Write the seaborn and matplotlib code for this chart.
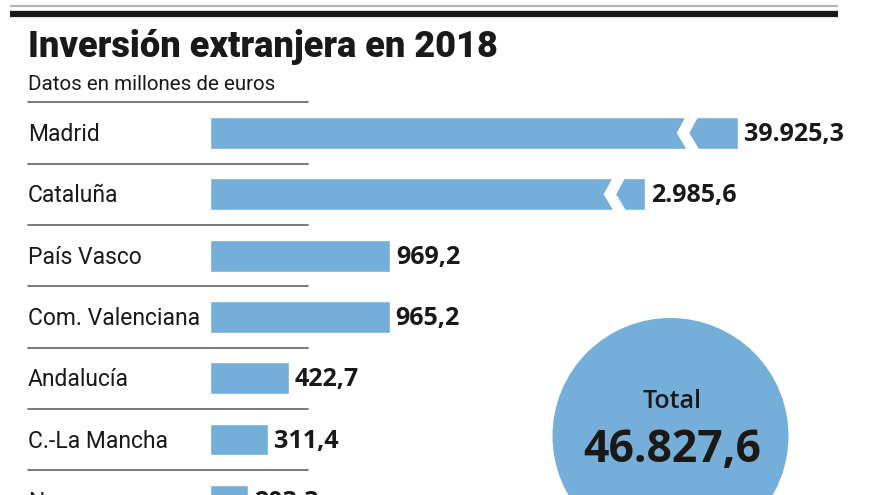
import matplotlib
matplotlib.use("Agg")
import matplotlib.pyplot as plt
import matplotlib.transforms as mtrans
from matplotlib.lines import Line2D
from matplotlib.patches import Ellipse, Polygon
import seaborn as sns

# data (millones de euros)
regions = ["Madrid", "Cataluña", "País Vasco", "Com. Valenciana",
           "Andalucía", "C.-La Mancha", "Navarra"]
values = [39925.3, 2985.6, 969.2, 965.2, 422.7, 311.4, 203.3]
total = 46827.6

# bars that are too long get drawn cut, with a break mark
cut_len = {"Madrid": 2840, "Cataluña": 2340}
break_at = {"Madrid": 2597, "Cataluña": 2204}

BLUE = "#75afd9"
INK = "#1b1918"
W, H = 880, 495
PX = 0.186  # pixels per million


def es_fmt(v):
    s = f"{v:,.1f}"
    return s.replace(",", "X").replace(".", ",").replace("X", ".")


sns.set_style("white")
narrow = ["Roboto", "DejaVu Sans"]
plt.rcParams["font.family"] = ["Open Sans", "DejaVu Sans"]

fig = plt.figure(figsize=(W / 100, H / 100), dpi=100)

# axes for the bars: starts at x=210px, rows 61.3px apart
row = 61.3
top_px = 133 - row / 2
ax = fig.add_axes([210 / W, 0, 1 - 210 / W, 1 - top_px / H])
ax.patch.set_visible(False)

shown = [cut_len.get(r, v) for r, v in zip(regions, values)]
sns.barplot(x=shown, y=regions, orient="h", color=BLUE, width=0.52,
            saturation=1, ax=ax)
ax.set_xlim(0, (W - 210) / PX)
ax.set_ylim((H - 133) / row, -0.5)
ax.axis("off")

# break marks
hw, dx, h = 5.5 / PX, 10 / PX, 0.3
for r, c in break_at.items():
    i = regions.index(r)
    pts = [(c - hw, i - h), (c - hw - dx, i), (c - hw + 1 / PX, i + h),
           (c + hw + 1 / PX, i + h), (c + hw - dx, i), (c + hw, i - h)]
    ax.add_patch(Polygon(pts, closed=True, color="white", zorder=5))

# value labels
off = 8.2 / row
for i, (s, v) in enumerate(zip(shown, values)):
    ax.text(s + 6 / PX, i + off, es_fmt(v), fontsize=18, fontweight="bold",
            color=INK, ha="left", va="baseline", clip_on=False)

# category labels and separators
tr = mtrans.blended_transform_factory(fig.transFigure, ax.transData)
for i, r in enumerate(regions):
    fig.text(28 / W, i + off, r, transform=tr, fontsize=16.5, family=narrow,
             color=INK, ha="left", va="baseline")
for k in range(len(regions)):
    fig.add_artist(Line2D([28 / W, 308 / W], [k - 0.5, k - 0.5], transform=tr,
                          color="#6e6e6e", lw=1.3))

# top rules
fig.add_artist(Line2D([10 / W, 838 / W], [1 - 5.5 / H] * 2, color="#b5b5b5",
                      lw=1.6, solid_capstyle="butt"))
fig.add_artist(Line2D([10 / W, 838 / W], [1 - 13.7 / H] * 2, color=INK,
                      lw=4.5, solid_capstyle="butt"))

# title
fig.text(28 / W, 1 - 56.7 / H, "Inversión extranjera en 2018", fontsize=26,
         fontweight="black", family=narrow, color=INK, ha="left", va="baseline")
fig.text(28 / W, 1 - 89.5 / H, "Datos en millones de euros", fontsize=14.8,
         family=narrow, color=INK, ha="left", va="baseline")

# total bubble
fig.add_artist(Ellipse((670.5 / W, 1 - 436 / H), 236 / W, 236 / H, color=BLUE, lw=0))
fig.text(672 / W, 1 - 408 / H, "Total", fontsize=18, fontweight="semibold",
         color=INK, ha="center", va="baseline")
fig.text(672 / W, 1 - 462 / H, es_fmt(total), fontsize=32, fontweight="bold",
         color=INK, ha="center", va="baseline")

fig.savefig("out.png", dpi=100)
